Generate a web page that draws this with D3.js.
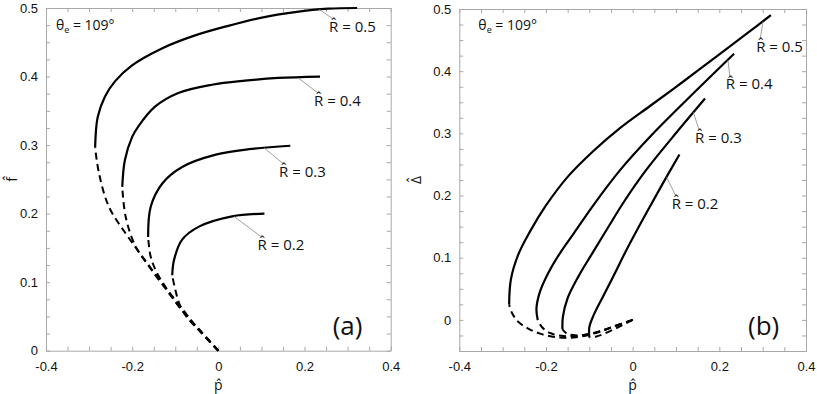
<!DOCTYPE html>
<html>
<head>
<meta charset="utf-8">
<script src="https://cdn.jsdelivr.net/npm/d3@7"></script>
<style>
	body { margin: 0; background: #fff; }
	svg { display: block; font-family: 'Open Sans', sans-serif; }
</style>
</head>
<body>
<svg id="chart" width="817" height="394"></svg>
<script>
// panel (a): f vs p, one solid (stable) and one dashed branch per R
const leftSolid = {
	'0.5': [[-0.286, 0.296], [-0.280, 0.341], [-0.263, 0.371], [-0.240, 0.393], [-0.201, 0.416], [-0.131, 0.441], [-0.054, 0.460], [0.023, 0.474], [0.101, 0.486], [0.178, 0.494], [0.255, 0.499], [0.322, 0.500]],
	'0.4': [[-0.223, 0.239], [-0.217, 0.278], [-0.200, 0.312], [-0.186, 0.327], [-0.147, 0.356], [-0.093, 0.376], [-0.015, 0.388], [0.062, 0.394], [0.139, 0.398], [0.236, 0.400]],
	'0.3': [[-0.163, 0.166], [-0.157, 0.210], [-0.130, 0.244], [-0.084, 0.268], [-0.006, 0.286], [0.071, 0.294], [0.167, 0.299]],
	'0.2': [[-0.107, 0.110], [-0.103, 0.132], [-0.084, 0.162], [-0.045, 0.181], [0.032, 0.196], [0.107, 0.200]],
};
// dashed branches listed from the origin outwards
const leftDashed = {
	'0.5': [[0, 0], [-0.045, 0.030], [-0.076, 0.055], [-0.130, 0.098], [-0.176, 0.137], [-0.215, 0.171], [-0.254, 0.210], [-0.277, 0.259], [-0.286, 0.296]],
	'0.4': [[0, 0], [-0.040, 0.027], [-0.078, 0.054], [-0.122, 0.090], [-0.161, 0.123], [-0.192, 0.152], [-0.215, 0.195], [-0.223, 0.239]],
	'0.3': [[0, 0], [-0.040, 0.028], [-0.082, 0.057], [-0.114, 0.085], [-0.142, 0.113], [-0.157, 0.137], [-0.163, 0.166]],
	'0.2': [[0, 0], [-0.040, 0.027], [-0.072, 0.048], [-0.089, 0.066], [-0.100, 0.089], [-0.107, 0.110]],
};

// panel (b): Delta vs p
const rightSolid = {
	'0.5': [[-0.285, 0.025], [-0.281, 0.065], [-0.264, 0.105], [-0.237, 0.142], [-0.200, 0.184], [-0.150, 0.230], [-0.090, 0.272], [-0.030, 0.308], [0.040, 0.344], [0.120, 0.385], [0.200, 0.427], [0.270, 0.464], [0.319, 0.490]],
	'0.4': [[-0.219, 0.000], [-0.222, 0.018], [-0.214, 0.045], [-0.195, 0.075], [-0.168, 0.107], [-0.135, 0.140], [-0.090, 0.185], [-0.030, 0.240], [0.045, 0.298], [0.125, 0.354], [0.234, 0.428]],
	'0.3': [[-0.162, -0.015], [-0.161, 0.005], [-0.150, 0.035], [-0.125, 0.070], [-0.095, 0.105], [-0.060, 0.145], [-0.020, 0.190], [0.030, 0.240], [0.090, 0.292], [0.167, 0.356]],
	'0.2': [[-0.100, -0.028], [-0.100, -0.012], [-0.091, 0.006], [-0.068, 0.038], [-0.041, 0.075], [-0.014, 0.113], [0.030, 0.170], [0.070, 0.220], [0.108, 0.266]],
};
const rightDashed = {
	'0.5': [[0, 0], [-0.045, -0.011], [-0.085, -0.021], [-0.130, -0.028], [-0.175, -0.028], [-0.214, -0.022], [-0.241, -0.014], [-0.264, -0.003], [-0.279, 0.012], [-0.285, 0.025]],
	'0.4': [[0, 0], [-0.042, -0.010], [-0.080, -0.019], [-0.120, -0.025], [-0.160, -0.026], [-0.191, -0.021], [-0.210, -0.011], [-0.219, 0.000]],
	'0.3': [[0, 0], [-0.037, -0.009], [-0.068, -0.017], [-0.100, -0.023], [-0.130, -0.025], [-0.152, -0.022], [-0.162, -0.015]],
	'0.2': [[0, 0], [-0.037, -0.013], [-0.068, -0.023], [-0.085, -0.027], [-0.100, -0.028]],
};

// R labels: point on curve and text anchor (data units)
const leftLabels = [
	{ r: '0.5', at: [0.234, 0.498], pos: [0.257, 0.465] },
	{ r: '0.4', at: [0.187, 0.397], pos: [0.222, 0.357] },
	{ r: '0.3', at: [0.106, 0.296], pos: [0.141, 0.254] },
	{ r: '0.2', at: [0.036, 0.196], pos: [0.091, 0.147] },
];
const rightLabels = [
	{ r: '0.5', at: [0.301, 0.480], pos: [0.285, 0.431] },
	{ r: '0.4', at: [0.220, 0.418], pos: [0.215, 0.371] },
	{ r: '0.3', at: [0.140, 0.334], pos: [0.144, 0.285] },
	{ r: '0.2', at: [0.078, 0.230], pos: [0.090, 0.179] },
];

const xLabels = [-0.4, -0.2, 0, 0.2, 0.4];
const leftYLabels = [0, 0.1, 0.2, 0.3, 0.4, 0.5];
const rightYLabels = [0, 0.1, 0.2, 0.3, 0.4, 0.5];

const svg = d3.select('#chart');
const fmt = (d) => (d === 0 ? '0' : d.toFixed(1));
const frameColor = '#a8a8a8';

const panels = [
	{
		x: [46, 390.7], y: [350.7, 8], yDomain: [0, 0.5],
		solid: leftSolid, dashed: leftDashed, labels: leftLabels, yLabels: leftYLabels,
		theta: [-0.377, 0.468], letter: '(a)', yTitle: 'f\u0302', yTitleX: 17,
	},
	{
		x: [459.3, 806], y: [351, 9], yDomain: [-0.05, 0.5],
		solid: rightSolid, dashed: rightDashed, labels: rightLabels, yLabels: rightYLabels,
		theta: [-0.356, 0.466], letter: '(b)', yTitle: '\u0394\u0302', yTitleX: 421,
	},
];

panels.forEach((p) => {
	const x = d3.scaleLinear().domain([-0.4, 0.4]).range(p.x);
	const y = d3.scaleLinear().domain(p.yDomain).range(p.y);
	const g = svg.append('g');

	const xTicks = d3.range(-8, 9).map((i) => i * 0.05);
	const yTicks = d3.range(Math.round(p.yDomain[0] / 0.025), 21).map((i) => i * 0.025);
	const isLabel = (list) => (d) => list.some((v) => Math.abs(v - d) < 1e-6);

	// bottom axis with labels, ticks inward
	const bottom = g.append('g')
		.attr('transform', `translate(0,${p.y[0]})`)
		.call(d3.axisBottom(x).tickValues(xTicks).tickSize(-4).tickSizeOuter(0).tickPadding(11)
			.tickFormat((d) => (isLabel(xLabels)(d) ? fmt(d) : '')));
	const left = g.append('g')
		.attr('transform', `translate(${p.x[0]},0)`)
		.call(d3.axisLeft(y).tickValues(yTicks).tickSize(-4).tickSizeOuter(0).tickPadding(8)
			.tickFormat((d) => (isLabel(p.yLabels)(d) ? fmt(d) : '')));
	const top = g.append('g')
		.attr('transform', `translate(0,${p.y[1]})`)
		.call(d3.axisTop(x).tickValues(xTicks).tickSize(-4).tickSizeOuter(0).tickFormat(''));
	const right = g.append('g')
		.attr('transform', `translate(${p.x[1]},0)`)
		.call(d3.axisRight(y).tickValues(yTicks).tickSize(-4).tickSizeOuter(0).tickFormat(''));

	[bottom, left, top, right].forEach((a) => {
		a.selectAll('path, line').attr('stroke', frameColor);
		a.selectAll('text').attr('fill', '#111').style('font-size', '13px');
	});

	const line = d3.line().x((d) => x(d[0])).y((d) => y(d[1])).curve(d3.curveCatmullRom.alpha(0.5));

	Object.values(p.dashed).forEach((pts) => {
		g.append('path').attr('d', line(pts)).attr('fill', 'none')
			.attr('stroke', '#000').attr('stroke-width', 2).attr('stroke-dasharray', '7,4.5');
	});
	Object.values(p.solid).forEach((pts) => {
		g.append('path').attr('d', line(pts)).attr('fill', 'none')
			.attr('stroke', '#000').attr('stroke-width', 2.2);
	});

	// R labels with leader lines
	p.labels.forEach((l) => {
		const tx = x(l.pos[0]);
		const ty = y(l.pos[1]);
		g.append('line')
			.attr('x1', x(l.at[0])).attr('y1', y(l.at[1]))
			.attr('x2', tx + 4).attr('y2', ty - 13)
			.attr('stroke', '#888').attr('stroke-width', 0.8);
		g.append('text').attr('x', tx).attr('y', ty)
			.style('font-size', '15px').attr('fill', '#111')
			.text(`R\u0302 = ${l.r}`);
	});

	// theta label
	const th = g.append('text')
		.attr('x', x(p.theta[0])).attr('y', y(p.theta[1]))
		.style('font-size', '14px').attr('fill', '#111');
	th.append('tspan').text('\u03b8');
	th.append('tspan').attr('dy', 3).style('font-size', '9px').text('e');
	th.append('tspan').attr('dy', -3).text(' = 109\u00b0');

	// panel letter
	g.append('text')
		.attr('x', p.x[1] - 58).attr('y', p.y[0] - 16)
		.style('font-size', '26px').attr('fill', '#111')
		.text(p.letter);

	// axis titles
	g.append('text')
		.attr('x', (p.x[0] + p.x[1]) / 2).attr('y', 390)
		.attr('text-anchor', 'middle').style('font-size', '14px').attr('fill', '#111')
		.text('p\u0302');
	g.append('text')
		.attr('transform', `translate(${p.yTitleX},${(p.y[0] + p.y[1]) / 2}) rotate(-90)`)
		.attr('text-anchor', 'middle').style('font-size', '14px').attr('fill', '#111')
		.text(p.yTitle);
});
</script>
</body>
</html>
